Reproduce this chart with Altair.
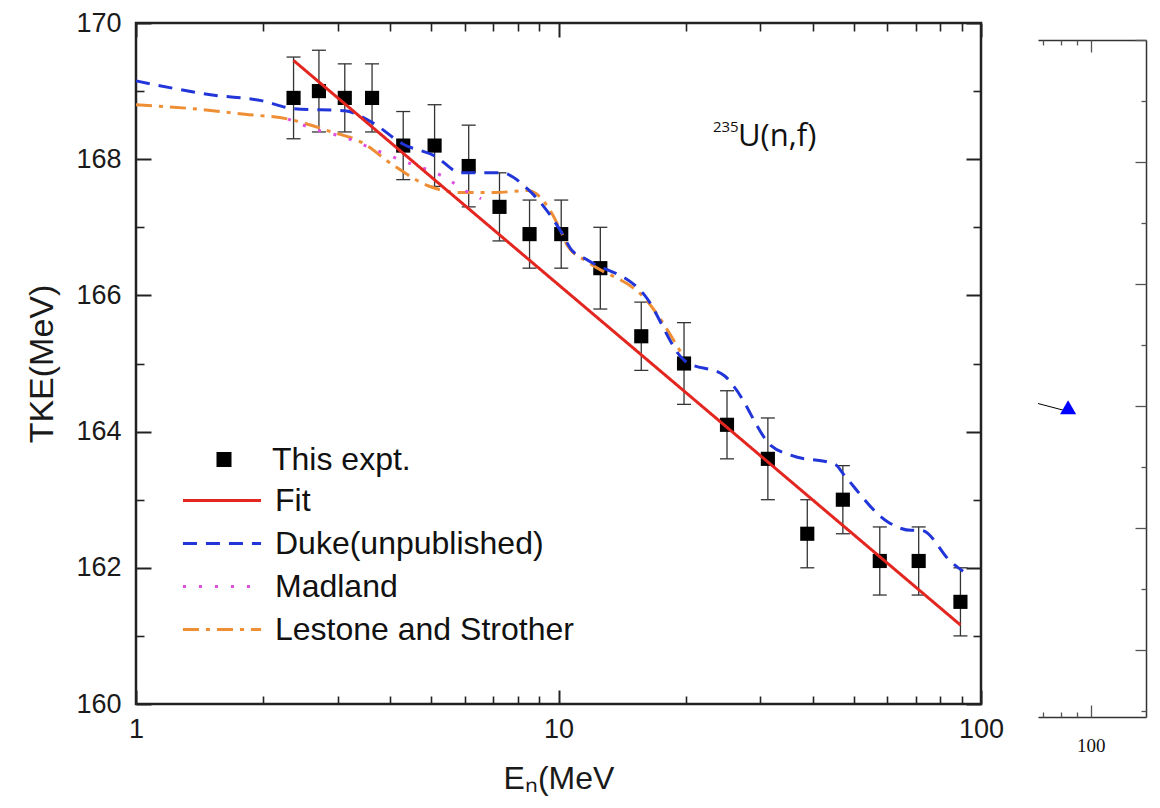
import altair as alt
import pandas as pd

# ---------------- data ----------------
exp_E = [2.36, 2.71, 3.12, 3.62, 4.29, 5.09, 6.13, 7.25, 8.54, 10.15,
         12.56, 15.70, 19.82, 25.05, 31.3, 38.8, 47.1, 57.6, 71.2, 89.4]
exp_TKE = [168.9, 169.0, 168.9, 168.9, 168.2, 168.2, 167.9, 167.3, 166.9, 166.9,
           166.4, 165.4, 165.0, 164.1, 163.6, 162.5, 163.0, 162.1, 162.1, 161.5]
exp_err = [0.6, 0.6, 0.5, 0.5, 0.5, 0.6, 0.6, 0.5, 0.5, 0.5,
           0.6, 0.5, 0.6, 0.5, 0.6, 0.5, 0.5, 0.5, 0.5, 0.5]

fit_E = [2.36, 89.4]
fit_TKE = [169.45, 161.16]

duke_E = [1.0, 1.53, 1.98, 2.37, 3.12, 3.62, 4.29, 5.09, 5.88, 7.32, 8.46, 10.15,
          10.7, 11.63, 16.0, 19.9, 24.7, 26.1, 31.9, 35.6, 45.1, 47.6, 60.3, 68.4,
          72.2, 85.1, 90.7]
duke_TKE = [169.15, 168.94, 168.86, 168.74, 168.71, 168.54, 168.22, 168.05, 167.80,
            167.80, 167.56, 166.93, 166.68, 166.53, 166.0, 165.04, 164.82, 164.65,
            163.79, 163.65, 163.52, 163.35, 162.67, 162.55, 162.55, 162.08, 161.95]

madland_E = [2.29, 2.65, 3.12, 3.74, 4.48, 5.28, 6.21, 6.56]
madland_TKE = [168.59, 168.44, 168.32, 168.12, 167.93, 167.76, 167.49, 167.42]

lestone_E = [1.0, 1.37, 1.81, 2.29, 2.84, 3.41, 4.09, 4.91, 5.88, 7.06, 8.46, 9.61,
             10.15, 10.5, 11.74, 16.3, 19.5]
lestone_TKE = [168.80, 168.74, 168.66, 168.59, 168.42, 168.25, 167.90, 167.61, 167.51,
               167.51, 167.54, 167.22, 166.93, 166.73, 166.49, 165.90, 165.16]

series_names = ["Fit", "Duke(unpublished)", "Madland", "Lestone and Strother"]
series_colors = ["#e3261f", "#2235d8", "#e04ee0", "#ee8e35"]
series_dashes = [[1, 0], [14, 9], [3, 13], [16, 7, 4, 7]]

x_major = [1, 10, 100]
x_minor = [2, 3, 4, 5, 6, 7, 8, 9, 20, 30, 40, 50, 60, 70, 80, 90]
y_major = [160, 162, 164, 166, 168, 170]
y_minor = [161, 163, 165, 167, 169]

note_sup = ["235"]
note_sup_E = [23.2]
note_sup_TKE = [168.47]
note_main = ["U(n,f)"]
note_main_E = [26.6]
note_main_TKE = [168.33]

# right-hand fragment
side_E = [84.4]
side_val = [4.98]
side_line_E = [67.4, 84.4]
side_line_val = [5.04, 4.91]
side_x_minor = [70, 80, 90]
side_x_major = [100]
side_y_minor = [0, 2, 4, 6, 8, 10]
side_y_major = [1, 3, 5, 7, 9, 11]

# ---------------- tables ----------------
rows = []
for name, E, T in [("Lestone and Strother", lestone_E, lestone_TKE),
                   ("Madland", madland_E, madland_TKE),
                   ("Duke(unpublished)", duke_E, duke_TKE),
                   ("Fit", fit_E, fit_TKE)]:
    for i, (e, t) in enumerate(zip(E, T)):
        rows.append({"series": name, "E": e, "TKE": t, "i": i})
lines_df = pd.DataFrame(rows)

exp_df = pd.DataFrame({"E": exp_E, "TKE": exp_TKE,
                       "lo": [t - e for t, e in zip(exp_TKE, exp_err)],
                       "hi": [t + e for t, e in zip(exp_TKE, exp_err)],
                       "kind": ["This expt."] * len(exp_E)})

FONT = "Liberation Sans"
XS = alt.Scale(type="log", domain=[1, 100])
YS = alt.Scale(domain=[160, 170])


def tick_axis(orient, values, size, width=1.6, color="#222", shift=0):
    return alt.Axis(orient=orient, values=values, tickSize=size, offset=-(size + shift),
                    domain=False, grid=False, labels=False, ticks=True,
                    tickColor=color, tickWidth=width, title=None)


# ---------------- main panel ----------------
errbars = alt.Chart(exp_df).mark_rule(color="#333", strokeWidth=1.3).encode(
    x=alt.X("E:Q", scale=XS, axis=None),
    y=alt.Y("lo:Q", scale=YS, axis=None),
    y2="hi:Q")
cap_lo = alt.Chart(exp_df).mark_tick(orient="horizontal", size=14, thickness=1.3,
                                      color="#333", opacity=1).encode(
    x=alt.X("E:Q", scale=XS, axis=None), y=alt.Y("lo:Q", scale=YS, axis=None))
cap_hi = alt.Chart(exp_df).mark_tick(orient="horizontal", size=14, thickness=1.3,
                                      color="#333", opacity=1).encode(
    x=alt.X("E:Q", scale=XS, axis=None), y=alt.Y("hi:Q", scale=YS, axis=None))

points = alt.Chart(exp_df).mark_point(shape="square", filled=True, size=200,
                                      color="black", opacity=1).encode(
    x=alt.X("E:Q", scale=XS, axis=None),
    y=alt.Y("TKE:Q", scale=YS, axis=None),
    shape=alt.Shape("kind:N", scale=alt.Scale(domain=["This expt."], range=["square"]),
                    legend=alt.Legend(title=None, orient="none", legendX=72, legendY=415,
                                      symbolSize=225, symbolFillColor="black",
                                      symbolStrokeColor="black", symbolStrokeWidth=0,
                                      clipHeight=43, padding=0, labelOffset=32,
                                      labelLimit=500,
                                      labelFont=FONT, labelFontSize=32, labelColor="#111")))

line_legend = alt.Legend(title=None, orient="none", legendX=45, legendY=456,
                         symbolType="stroke", symbolSize=6100, symbolStrokeWidth=3,
                         clipHeight=43, rowPadding=0, padding=0, labelOffset=12,
                         labelLimit=500,
                         labelFont=FONT, labelFontSize=32, labelColor="#111")
lines = alt.Chart(lines_df).mark_line(strokeWidth=3, interpolate="monotone").encode(
    x=alt.X("E:Q", scale=XS, axis=None),
    y=alt.Y("TKE:Q", scale=YS, axis=None),
    color=alt.Color("series:N", scale=alt.Scale(domain=series_names, range=series_colors),
                    legend=line_legend),
    strokeDash=alt.StrokeDash("series:N",
                              scale=alt.Scale(domain=series_names, range=series_dashes),
                              legend=line_legend),
    order="i:Q")

sup_df = pd.DataFrame({"E": note_sup_E, "TKE": note_sup_TKE, "t": note_sup})
main_df = pd.DataFrame({"E": note_main_E, "TKE": note_main_TKE, "t": note_main})
note1 = alt.Chart(sup_df).mark_text(align="left", baseline="middle", font="Open Sans",
                                    fontSize=15, color="#111").encode(
    x=alt.X("E:Q", scale=XS, axis=None), y=alt.Y("TKE:Q", scale=YS, axis=None), text="t:N")
note2 = alt.Chart(main_df).mark_text(align="left", baseline="middle", font="Open Sans",
                                     fontSize=31, color="#111").encode(
    x=alt.X("E:Q", scale=XS, axis=None), y=alt.Y("TKE:Q", scale=YS, axis=None), text="t:N")

dummy = pd.DataFrame({"E": [10], "TKE": [165]})


def axis_layer(xax, yax):
    return alt.Chart(dummy).mark_point(opacity=0).encode(
        x=alt.X("E:Q", scale=XS, axis=xax), y=alt.Y("TKE:Q", scale=YS, axis=yax))


ax_main = axis_layer(
    alt.Axis(orient="bottom", values=x_major, tickSize=14, offset=-14, domain=False,
             grid=False, tickColor="#222", tickWidth=2, format="d", labelFlush=False,
             labelOverlap=False, labelFont=FONT, labelFontSize=27, labelColor="#1a1a1a",
             labelPadding=12, title="E\u2099(MeV", titleFont=FONT, titleFontSize=32,
             titleFontWeight="normal", titleColor="#1a1a1a", titlePadding=21),
    alt.Axis(orient="left", values=y_major, tickSize=15, offset=-15, domain=False,
             grid=False, tickColor="#222", tickWidth=2, format="d", labelFlush=False,
             labelOverlap=False, labelFont=FONT, labelFontSize=27, labelColor="#1a1a1a",
             labelPadding=15, title="TKE(MeV)", titleFont=FONT, titleFontSize=34,
             titleFontWeight="normal", titleColor="#1a1a1a", titlePadding=16))
ax_minor1 = axis_layer(tick_axis("bottom", x_minor, 8), tick_axis("left", y_minor, 8))
ax_major2 = axis_layer(tick_axis("top", x_major, 14, 2), tick_axis("right", y_major, 15, 2))
ax_minor2 = axis_layer(tick_axis("top", x_minor, 8), tick_axis("right", y_minor, 8))

main = alt.layer(errbars, cap_lo, cap_hi, points, lines, note1, note2,
                 ax_main, ax_minor1, ax_major2, ax_minor2).resolve_axis(
    x="independent", y="independent").properties(
    width=845, height=681,
    view=alt.ViewBackground(stroke="#222", strokeWidth=2.5))

# ---------------- right fragment ----------------
TOP_GAP = 17
SIDE_H = 694
XR = alt.Scale(type="log", domain=[67.4, 151.1])
YR = alt.Scale(domain=[-0.1, 11], range=[SIDE_H, TOP_GAP])
tri_df = pd.DataFrame({"E": side_E, "v": side_val})
seg_df = pd.DataFrame({"E": side_line_E, "v": side_line_val})

seg = alt.Chart(seg_df).mark_line(color="black", strokeWidth=1).encode(
    x=alt.X("E:Q", scale=XR, axis=None), y=alt.Y("v:Q", scale=YR, axis=None))
tri = alt.Chart(tri_df).mark_point(shape="triangle-up", filled=True, size=260,
                                   color="#0000ff", opacity=1).encode(
    x=alt.X("E:Q", scale=XR, axis=None), y=alt.Y("v:Q", scale=YR, axis=None))


def side_layer(xax, yax):
    return alt.Chart(tri_df).mark_point(opacity=0).encode(
        x=alt.X("E:Q", scale=XR, axis=xax), y=alt.Y("v:Q", scale=YR, axis=yax))


r1 = side_layer(
    alt.Axis(orient="bottom", values=side_x_major, domain=True, domainColor="#333",
             domainWidth=1.5, ticks=False, grid=False, format="d", labelFlush=False,
             labelFont="Liberation Serif", labelFontSize=19, labelColor="#111",
             labelPadding=19, title=None),
    alt.Axis(orient="right", domain=True, domainColor="#333", domainWidth=1.5,
             ticks=False, labels=False, grid=False, title=None))
r2 = side_layer(tick_axis("bottom", side_x_minor, 5, 1.3, "#555"),
                tick_axis("right", side_y_minor, 5, 1.3, "#555"))
r3 = side_layer(tick_axis("bottom", side_x_major, 12, 1.3, "#555"),
                tick_axis("right", side_y_major, 11, 1.3, "#555"))
r4 = side_layer(
    alt.Axis(orient="top", domain=True, domainColor="#333", domainWidth=1.5,
             ticks=False, labels=False, grid=False, title=None, offset=-TOP_GAP),
    None)
r5 = side_layer(tick_axis("top", side_x_minor, 5, 1.3, "#555", shift=TOP_GAP), None)
r6 = side_layer(tick_axis("top", side_x_major, 12, 1.3, "#555", shift=TOP_GAP), None)

side = alt.layer(seg, tri, r1, r2, r3, r4, r5, r6).resolve_axis(
    x="independent", y="independent").properties(width=108, height=SIDE_H)

chart = alt.hconcat(main, side, spacing=30).properties(
    padding={"left": 24, "top": 7, "right": 5, "bottom": 0}
).configure_view(stroke="transparent")

chart.save("out.html", embed_options={"renderer": "svg", "actions": False})
